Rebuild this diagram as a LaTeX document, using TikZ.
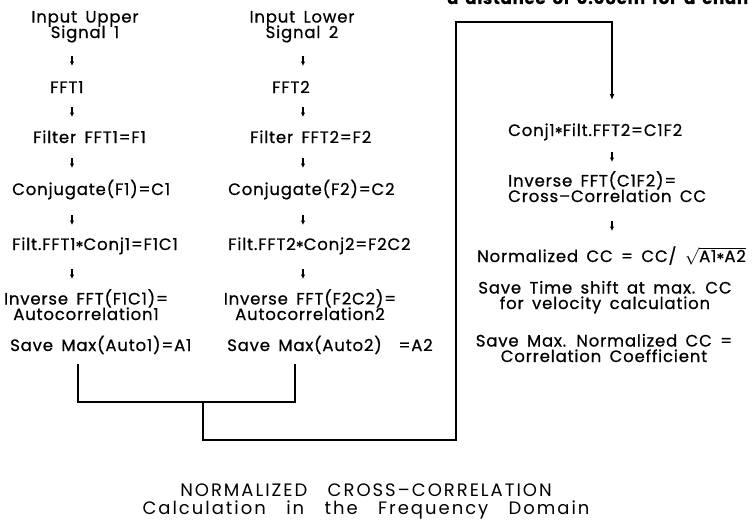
\documentclass[tikz,border=0pt]{standalone}
\usepackage{fontspec}
\setmainfont{Poppins}[WordSpace=1.6, LetterSpace=5, FakeBold=0.7]
\newfontfamily\titlefont{Poppins}[WordSpace=3, LetterSpace=11]
\usetikzlibrary{arrows.meta}
\newcommand\mystar{\raisebox{-0.35ex}{*}}
\newcommand\bodyfnt{\fontsize{16.5}{15.5}\selectfont\lineskiplimit=-50pt\relax}
\newcommand\titlefnt{\titlefont\fontsize{18}{17.5}\selectfont\lineskiplimit=-50pt\relax}
\begin{document}
\begin{tikzpicture}[x=1pt,y=-1pt,
  lbl/.style={inner sep=0pt, anchor=base west, font=\bodyfnt},
  lblc/.style={lbl, anchor=base, align=center},
  lbll/.style={lbl, anchor=base west, align=left},
  ttl/.style={inner sep=0pt, anchor=base, align=center, font=\titlefnt},
  flow/.style={line width=1.2pt, -{Latex[length=4.5pt,width=4.5pt]}},
  wire/.style={line width=1.3pt},
  tipwire/.style={line width=1.3pt, -{Latex[length=6pt,width=5pt]}},
]
\useasboundingbox (0,0) rectangle (752,522);
% clipped top text
\node[lbl, font=\fontsize{16.5}{18}\selectfont\bfseries] (topt) at (447,4) {a distance of 0.08cm for a chan};
% column 1 (multi-line nodes are placed by the baseline of their last line)
\node[lblc] (u12) at (85,38) {Input Upper\\Signal 1};
\node[lbl] (u3) at (50,93) {FFT1};
\node[lbl] (u4) at (33,143) {Filter FFT1=F1};
\node[lbl] (u5) at (12,195) {Conjugate(F1)=C1};
\node[lbl] (u6) at (12,250) {Filt.FFT1\mystar Conj1=F1C1};
\node[lblc] (u78) at (86,320) {Inverse FFT(F1C1)=\\Autocorrelation1};
\node[lbl] (u9) at (10,351) {Save Max(Auto1)=A1};
% column 2
\node[lblc] (l12) at (302,38) {Input Lower\\Signal 2};
\node[lbl] (l3) at (272,93) {FFT2};
\node[lbl] (l4) at (250,143) {Filter FFT2=F2};
\node[lbl] (l5) at (228,195) {Conjugate(F2)=C2};
\node[lbl] (l6) at (228,250) {Filt.FFT2\mystar Conj2=F2C2};
\node[lblc] (l78) at (310,320) {Inverse FFT(F2C2)=\\Autocorrelation2};
\node[lbl] (l9) at (227,351) {Save Max(Auto2)\ \ =A2};
% column 3
\node[lbl] (r1) at (508,136) {Conj1\mystar Filt.FFT2=C1F2};
\node[lbll] (r23) at (508,202) {Inverse FFT(C1F2)=\\Cross–Correlation CC};
\node[lbl] (r4) at (477,262) {Normalized CC = CC/ $\sqrt{\mbox{A1\mystar A2}}$};
\node[lblc] (r56) at (605,309) {Save Time shift at max. CC\\for velocity calculation};
\node[lblc] (r78) at (604,362) {Save Max. Normalized CC =\\Correlation Coefficient};
% title
\node[ttl] (t) at (366,514) {NORMALIZED CROSS–CORRELATION\\Calculation in the Frequency Domain};
% small arrows
\foreach \x in {72,303}
  \foreach \y in {61,112,163,220,274}
    \draw[flow] (\x,\y-5) -- (\x,\y+5);
\foreach \y in {157,226}
  \draw[flow] (612,\y-5) -- (612,\y+5);
% wires
\coordinate (j1) at (78,364);
\coordinate (j2) at (295,364);
\coordinate (m) at (203,402);
\coordinate (k1) at (203,440);
\coordinate (k2) at (456,22);
\coordinate (tip) at (612,100);
\draw[wire] (j1) |- (m) -| (j2);
\draw[tipwire] (m) -- (k1) -| (k2) -| (tip);
\end{tikzpicture}
\end{document}
